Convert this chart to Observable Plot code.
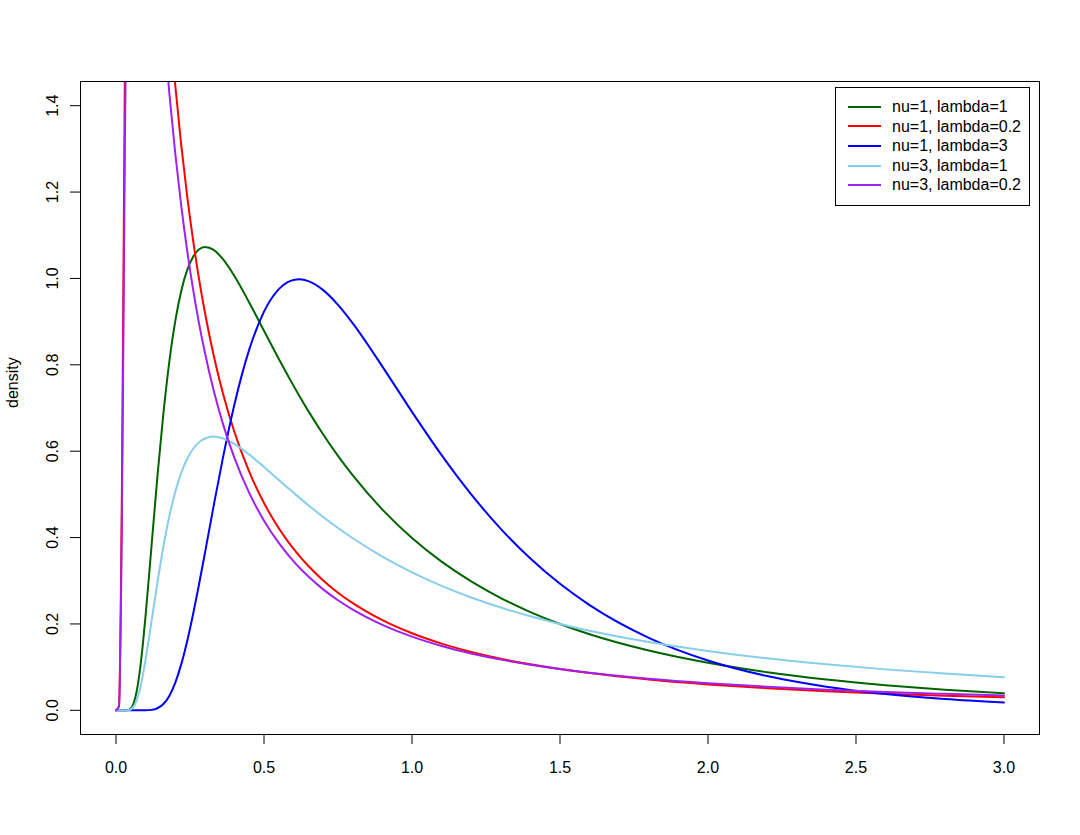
<!DOCTYPE html>
<html>
<head>
<meta charset="utf-8">
<script src="https://cdn.jsdelivr.net/npm/d3@7"></script>
<script src="https://cdn.jsdelivr.net/npm/@observablehq/plot@0.6"></script>
<style>
  html, body { margin: 0; padding: 0; background: #fff; }
  #wrap { position: relative; width: 1080px; height: 835px; font-family: "Liberation Sans", Arial, Helvetica, sans-serif; }
  #legend { position: absolute; left: 835px; top: 87px; width: 195px; height: 119px; box-sizing: border-box;
            border: 1px solid #000; background: #fff; padding-top: 9px; }
  .row { height: 19.6px; line-height: 19.6px; font-size: 16px; color: #000; white-space: nowrap; display: flex; align-items: center; }
  .sw { width: 33px; height: 2px; margin-left: 12px; margin-right: 11px; }
</style>
</head>
<body>
<div id="wrap"></div>
<script>
// x grid (shared by all series)
const xs = [0, 0.01, 0.02, 0.03, 0.04, 0.05, 0.06, 0.07, 0.08, 0.09, 0.10, 0.12, 0.14, 0.16, 0.18, 0.20, 0.22, 0.24, 0.26, 0.28, 0.30, 0.33, 0.36, 0.40, 0.45, 0.50, 0.55, 0.58, 0.60, 0.62, 0.65, 0.70, 0.75, 0.80, 0.90, 1.0, 1.1, 1.2, 1.3, 1.4, 1.5, 1.6, 1.8, 2.0, 2.2, 2.4, 2.6, 2.8, 3.0];

// density values
const nu1_lambda1 = [0, 0, 0, 0.00001, 0.0005, 0.0043, 0.0172, 0.0447, 0.0889, 0.1484, 0.2198, 0.3809, 0.5427, 0.6872, 0.8070, 0.9005, 0.9699, 1.0186, 1.0498, 1.0669, 1.0729, 1.0660, 1.0457, 1.0055, 0.9443, 0.8788, 0.8136, 0.7758, 0.7512, 0.7274, 0.6928, 0.6388, 0.5891, 0.5438, 0.4647, 0.3989, 0.3442, 0.2985, 0.2600, 0.2275, 0.1998, 0.1761, 0.1383, 0.1099, 0.0881, 0.0713, 0.0582, 0.0477, 0.0394];
const nu1_lambda02 = [0, 0.0099, 0.5180, 1.4918, 2.2276, 2.6247, 2.7838, 2.8001, 2.7371, 2.6330, 2.5099, 2.2511, 2.0081, 1.7935, 1.6080, 1.4485, 1.3112, 1.1928, 1.0902, 1.0007, 0.9222, 0.8215, 0.7371, 0.6445, 0.5526, 0.4800, 0.4216, 0.3918, 0.3738, 0.3571, 0.3341, 0.3007, 0.2724, 0.2481, 0.2087, 0.1784, 0.1545, 0.1353, 0.1195, 0.1065, 0.0955, 0.0862, 0.0713, 0.0600, 0.0512, 0.0442, 0.0386, 0.0339, 0.0301];
const nu1_lambda3 = [0, 0, 0, 0, 0, 0, 0, 0, 0.000004, 0.00003, 0.0001, 0.0010, 0.0048, 0.0145, 0.0333, 0.0636, 0.1058, 0.1590, 0.2213, 0.2902, 0.3629, 0.4737, 0.5805, 0.7081, 0.8351, 0.9232, 0.9752, 0.9913, 0.9966, 0.9981, 0.9939, 0.9729, 0.9388, 0.8959, 0.7959, 0.6910, 0.5908, 0.5000, 0.4202, 0.3514, 0.2929, 0.2436, 0.1679, 0.1154, 0.0793, 0.0546, 0.0376, 0.0260, 0.0180];
const nu3_lambda1 = [0, 0, 0, 0.000006, 0.0003, 0.0023, 0.0091, 0.0237, 0.0473, 0.0793, 0.1180, 0.2063, 0.2965, 0.3788, 0.4488, 0.5053, 0.5492, 0.5818, 0.6050, 0.6204, 0.6294, 0.6338, 0.6300, 0.6167, 0.5922, 0.5635, 0.5334, 0.5154, 0.5036, 0.4919, 0.4748, 0.4476, 0.4221, 0.3984, 0.3559, 0.3195, 0.2882, 0.2612, 0.2379, 0.2176, 0.1998, 0.1842, 0.1580, 0.1372, 0.1203, 0.1064, 0.0948, 0.0851, 0.0768];
const nu3_lambda02 = [0, 0.0087, 0.4542, 1.3089, 1.9559, 2.3072, 2.4493, 2.4659, 2.4127, 2.3229, 2.2162, 1.9912, 1.7795, 1.5922, 1.4300, 1.2904, 1.1702, 1.0664, 0.9764, 0.8978, 0.8289, 0.7403, 0.6661, 0.5845, 0.5034, 0.4392, 0.3875, 0.3610, 0.3450, 0.3302, 0.3098, 0.2801, 0.2548, 0.2331, 0.1979, 0.1707, 0.1491, 0.1317, 0.1174, 0.1055, 0.0955, 0.0870, 0.0732, 0.0627, 0.0545, 0.0479, 0.0425, 0.0381, 0.0343];

const seriesNames = ["nu=1, lambda=1", "nu=1, lambda=0.2", "nu=1, lambda=3", "nu=3, lambda=1", "nu=3, lambda=0.2"];
const xTicks = [0, 0.5, 1.0, 1.5, 2.0, 2.5, 3.0];
const yTicks = [0, 0.2, 0.4, 0.6, 0.8, 1.0, 1.2, 1.4];
const yLabel = "density";

const seriesValues = [nu1_lambda1, nu1_lambda02, nu1_lambda3, nu3_lambda1, nu3_lambda02];
const palette = ["#006400", "#FF0000", "#0000FF", "#87CEEB", "#A020F0"];

const rows = seriesNames.flatMap((name, i) => xs.map((x, j) => ({x, y: seriesValues[i][j], series: name})));

const chart = Plot.plot({
  width: 1080,
  height: 835,
  marginLeft: 80,
  marginRight: 41,
  marginTop: 81,
  marginBottom: 101,
  style: {fontFamily: '"Liberation Sans", Arial, Helvetica, sans-serif', fontSize: "16px", color: "#000", background: "#fff"},
  x: {domain: [-0.12, 3.12]},
  y: {domain: [-0.056, 1.456]},
  color: {domain: seriesNames, range: palette},
  marks: [
    Plot.line(rows, {x: "x", y: "y", z: "series", stroke: "series", strokeWidth: 2, curve: "monotone-x", clip: true}),
    Plot.frame({stroke: "#000", strokeWidth: 1}),
    Plot.axisX({ticks: xTicks, tickFormat: d3.format(".1f"), tickSize: 10, tickPadding: 17, label: null, fontVariant: "normal"}),
    Plot.axisY({ticks: yTicks, tickFormat: d3.format(".1f"), tickSize: 10, tickPadding: 13, tickRotate: -90, label: null, fontVariant: "normal"}),
    Plot.text([yLabel], {text: d => d, frameAnchor: "left", rotate: -90, lineAnchor: "bottom", dx: -63, fontSize: 16})
  ]
});

const wrap = document.getElementById("wrap");
wrap.appendChild(chart);

const legend = document.createElement("div");
legend.id = "legend";
seriesNames.forEach((name, i) => {
  const row = document.createElement("div");
  row.className = "row";
  const sw = document.createElement("span");
  sw.className = "sw";
  sw.style.background = palette[i];
  const t = document.createElement("span");
  t.textContent = name;
  row.appendChild(sw);
  row.appendChild(t);
  legend.appendChild(row);
});
wrap.appendChild(legend);
</script>
</body>
</html>
